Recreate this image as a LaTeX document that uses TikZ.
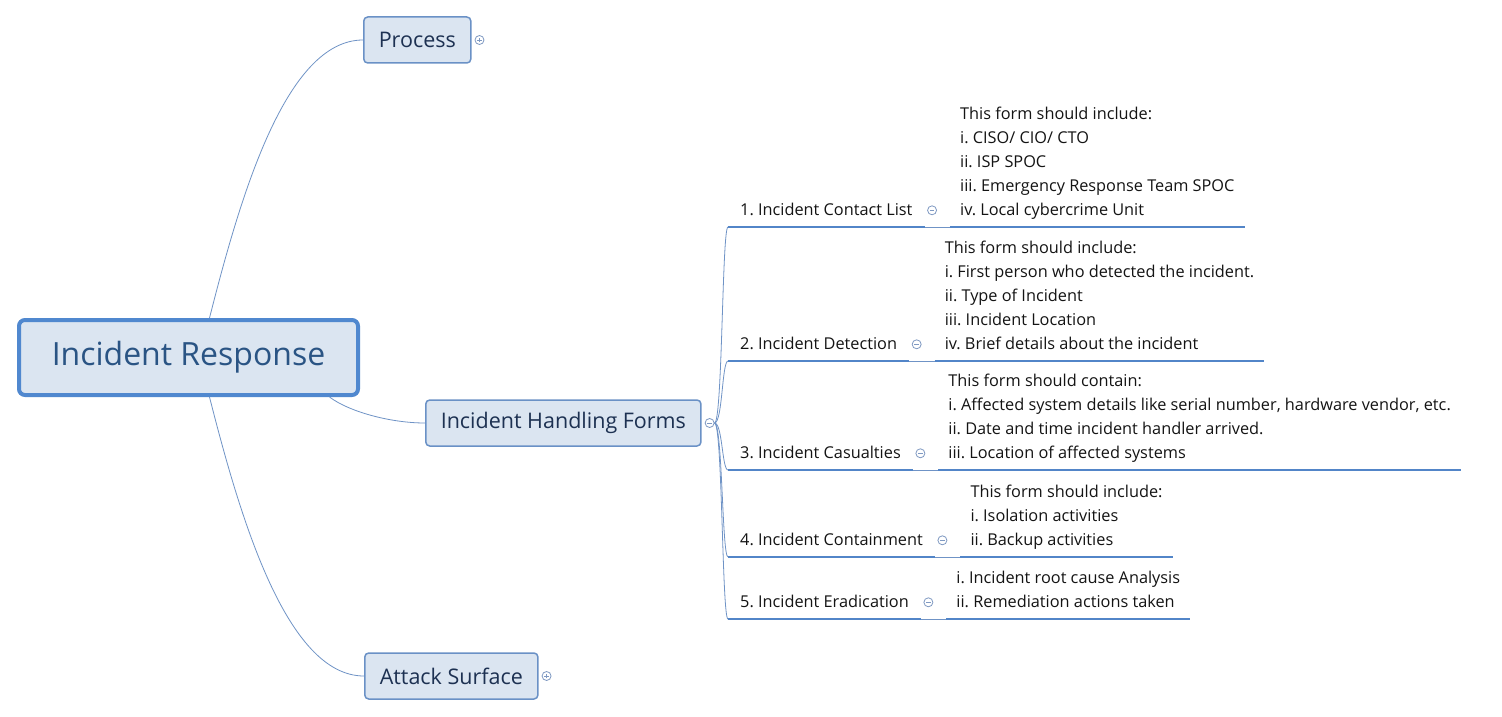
\documentclass[tikz,border=0pt]{standalone}
\usepackage{fontspec}
\setmainfont{Open Sans}
\frenchspacing
\usetikzlibrary{positioning}

\definecolor{rootline}{HTML}{5088CF}
\definecolor{rootfill}{HTML}{DBE5F1}
\definecolor{roottext}{HTML}{2A5484}
\definecolor{topicline}{HTML}{6A91C6}
\definecolor{topictext}{HTML}{1D3152}
\definecolor{connline}{HTML}{6F93C6}
\definecolor{ulinecol}{HTML}{5285C8}
\definecolor{symbcol}{HTML}{7F99C2}

\tikzset{
  central/.style={draw=rootline, fill=rootfill, line width=4pt, rounded corners=6pt,
    minimum width=339pt, minimum height=75pt, text=roottext,
    font=\fontsize{32}{38}\selectfont},
  topic/.style={draw=topicline, fill=rootfill, line width=1.5pt, rounded corners=4pt,
    minimum height=46pt, inner xsep=15pt, text=topictext,
    font=\fontsize{21.5}{25}\selectfont, anchor=west},
  conn/.style={draw=connline, line width=0.8pt},
  uline/.style={draw=ulinecol, line width=2.6pt},
  sub/.style={font=\fontsize{16.3}{24}\selectfont, text=black!92, inner xsep=12pt,
    inner ysep=4.5pt, anchor=south west, execute at end node=\strut,
    append after command={(\tikzlastnode.south west) edge[uline] (\tikzlastnode.south east)}},
  detail/.style={sub, align=left, inner xsep=10pt},
  fold/.style={circle, draw=symbcol, line width=0.8pt, inner sep=0pt, minimum size=9pt},
  minus/.style={fold, path picture={
    \draw[symbcol, line width=0.8pt] ([xshift=-2.3pt]path picture bounding box.center) -- ([xshift=2.3pt]path picture bounding box.center);}},
  plus/.style={fold, path picture={
    \draw[symbcol, line width=0.8pt] ([xshift=-2.3pt]path picture bounding box.center) -- ([xshift=2.3pt]path picture bounding box.center)
      ([yshift=-2.3pt]path picture bounding box.center) -- ([yshift=2.3pt]path picture bounding box.center);}},
}

\begin{document}
\begin{tikzpicture}[x=1pt, y=-1pt]
  \path[fill=white, use as bounding box] (0,0) rectangle (1502,717);

  % main topics
  \node[central] (root) at (188.5,357.5) {Incident Response};
  \node[topic] (proc) at (363,40) {Process};
  \node[topic] (forms) at (425,423) {Incident Handling Forms};
  \node[topic] (attack) at (364,676) {Attack Surface};
  \node[plus, right=3pt of proc] (procp) {};
  \node[minus, right=3pt of forms] (formsm) {};
  \node[plus, right=3pt of attack] (attackp) {};

  \draw[conn] ([xshift=21pt]root.north) .. controls +(30,-118) and +(-78,0) .. (proc.west);
  \draw[conn] ([xshift=141pt]root.south) .. controls +(20,15) and +(-34,0) .. (forms.west);
  \draw[conn] ([xshift=21pt]root.south) .. controls +(30,118) and +(-78,0) .. (attack.west);

  % forms
  \node[sub] (f1) at (728,227) {1. Incident Contact List};
  \node[sub] (f2) at (728,361) {2. Incident Detection};
  \node[sub] (f3) at (728,470) {3. Incident Casualties};
  \node[sub] (f4) at (728,557) {4. Incident Containment};
  \node[sub] (f5) at (728,619) {5. Incident Eradication};

  \foreach \i in {1,...,5}
    \node[minus, right=2.5pt of f\i] (f\i m) {};

  \node[detail] (d1) at ([xshift=13pt]f1m.east |- f1.south) {This form should include:\\
    i. CISO/ CIO/ CTO\\ ii. ISP SPOC\\ iii. Emergency Response Team SPOC\\ iv. Local cybercrime Unit};
  \node[detail] (d2) at ([xshift=13pt]f2m.east |- f2.south) {This form should include:\\
    i. First person who detected the incident.\\ ii. Type of Incident\\ iii. Incident Location\\
    iv. Brief details about the incident};
  \node[detail] (d3) at ([xshift=13pt]f3m.east |- f3.south) {This form should contain:\\
    i. Affected system details like serial number, hardware vendor, etc.\\
    ii. Date and time incident handler arrived.\\ iii. Location of affected systems};
  \node[detail] (d4) at ([xshift=13pt]f4m.east |- f4.south) {This form should include:\\
    i. Isolation activities\\ ii. Backup activities};
  \node[detail] (d5) at ([xshift=13pt]f5m.east |- f5.south) {i. Incident root cause Analysis\\
    ii. Remediation actions taken};

  \foreach \i in {1,...,5} {
    \draw[conn] (formsm.east) .. controls +(8,0) and +(-6,0) .. (f\i.south west);
    \draw[conn] (f\i.south east) -- (d\i.south west);
  }
\end{tikzpicture}
\end{document}
